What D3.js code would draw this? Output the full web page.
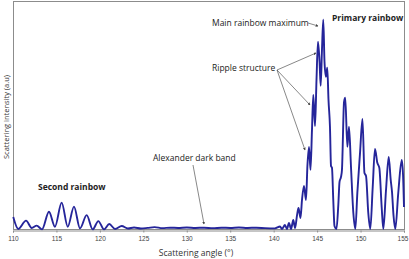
<!DOCTYPE html>
<html lang="en">
<head>
    <meta charset="UTF-8">
    <title>Rainbow scattering</title>
    <script src="https://d3js.org/d3.v7.min.js"></script>
    <style>
        body { margin: 0; background: #fff; font-family: "Open Sans", Arial, sans-serif; }
    </style>
</head>
<body>
    <div id="chart"></div>
    <script>
        // scattering angle (deg) and intensity (a.u.)
        const angles = [
            110.03, 110.61, 111.50, 112.15, 112.73, 113.34, 114.14, 114.83, 115.60, 116.30,
            117.02, 117.71, 118.48, 119.17, 119.82, 120.47, 121.08, 121.74, 122.51, 123.23,
            123.93, 124.73, 125.5, 126.3, 127.2, 128.1, 129.0, 130.0, 131.0, 132.0,
            133.0, 134.0, 135.0, 136.0, 137.0, 138.0, 139.0, 140.15, 140.73, 140.96,
            141.30, 141.53, 141.76, 142.00, 142.26, 142.46, 142.69, 142.86, 143.09, 143.26,
            143.49, 143.72, 143.89, 144.07, 144.24, 144.41, 144.56, 144.76, 144.93, 145.10,
            145.28, 145.41, 145.56, 145.71, 145.85, 146.02, 146.17, 146.31, 146.48, 146.60,
            146.71, 146.86, 147.00, 147.23, 147.44, 147.58, 147.75, 147.86, 148.10, 148.24,
            148.48, 148.67, 148.90, 149.17, 149.40, 149.63, 149.94, 150.22, 150.45, 150.63,
            150.89, 151.12, 151.40, 151.66, 151.93, 152.16, 152.43, 152.62, 152.93, 153.24,
            153.47, 153.62, 153.79, 154.00, 154.34, 154.74, 154.89, 155.00
        ];
        const intensity = [
            0.063, 0.005, 0.045, 0.010, 0.021, 0.003, 0.088, 0.016, 0.132, 0.016,
            0.113, 0.008, 0.072, 0.003, 0.043, 0.003, 0.029, 0.005, 0.019, 0.007,
            0.012, 0.007, 0.010, 0.014, 0.009, 0.011, 0.010, 0.012, 0.010, 0.011,
            0.009, 0.011, 0.010, 0.012, 0.010, 0.011, 0.009, 0.008, 0.017, 0.005,
            0.024, 0.005, 0.034, 0.005, 0.048, 0.010, 0.072, 0.106, 0.058, 0.145,
            0.213, 0.145, 0.314, 0.401, 0.290, 0.483, 0.652, 0.502, 0.725, 0.908,
            0.812, 0.696, 0.870, 1.014, 0.812, 0.739, 0.783, 0.628, 0.498, 0.309,
            0.300, 0.145, 0.019, 0.005, 0.121, 0.232, 0.256, 0.290, 0.618, 0.638,
            0.401, 0.498, 0.304, 0.082, 0.005, 0.179, 0.372, 0.536, 0.275, 0.261,
            0.082, 0.005, 0.208, 0.391, 0.324, 0.300, 0.111, 0.005, 0.193, 0.353,
            0.242, 0.184, 0.072, 0.005, 0.179, 0.338, 0.266, 0.111
        ];
        const xTicks = [110, 115, 120, 125, 130, 135, 140, 145, 150, 155];

        const data = angles.map((a, i) => ({ a: a, v: intensity[i] }));

        const width = 409, height = 259;
        const margin = { top: 2, right: 4, bottom: 29, left: 13 };

        const svg = d3.select("#chart").append("svg")
            .attr("width", width)
            .attr("height", height);

        const x = d3.scaleLinear().domain([110, 155]).range([margin.left, width - margin.right - 1]);
        const y = d3.scaleLinear().domain([0, 1.1]).range([height - margin.bottom, margin.top]);

        // plot frame
        svg.append("rect")
            .attr("x", margin.left + 0.5)
            .attr("y", margin.top - 0.5)
            .attr("width", width - margin.left - margin.right - 1)
            .attr("height", height - margin.bottom - margin.top)
            .attr("fill", "none")
            .attr("stroke", "#8c8c8c");

        // x axis
        const xAxis = svg.append("g")
            .attr("transform", `translate(0,${height - margin.bottom + 0.5})`)
            .call(d3.axisBottom(x).tickValues(xTicks).tickSize(2).tickPadding(4));
        xAxis.select(".domain").attr("stroke", "#8c8c8c");
        xAxis.selectAll(".tick line").attr("stroke", "#8c8c8c");
        xAxis.selectAll("text")
            .attr("fill", "#444")
            .style("font-size", "6.5px")
            .style("font-family", "Arial, sans-serif");
        xAxis.selectAll(".tick text").filter(d => d === 155).attr("dx", "-1.5");

        // curve
        const line = d3.line()
            .x(d => x(d.a))
            .y(d => y(d.v))
            .curve(d3.curveMonotoneX);

        svg.append("path")
            .datum(data)
            .attr("fill", "none")
            .attr("stroke", "#25259a")
            .attr("stroke-width", 1.9)
            .attr("stroke-linejoin", "round")
            .attr("d", line);

        // axis titles
        svg.append("text")
            .attr("x", 196)
            .attr("y", 256)
            .attr("text-anchor", "middle")
            .attr("fill", "#333")
            .style("font-size", "8.5px")
            .text("Scattering angle (°)");

        svg.append("text")
            .attr("transform", "rotate(-90)")
            .attr("x", -117)
            .attr("y", 9)
            .attr("text-anchor", "middle")
            .attr("fill", "#333")
            .style("font-size", "7.5px")
            .text("Scattering intensity (a.u)");

        // annotations
        svg.append("defs").append("marker")
            .attr("id", "arr")
            .attr("viewBox", "0 0 6 6")
            .attr("refX", 5).attr("refY", 3)
            .attr("markerWidth", 4).attr("markerHeight", 4)
            .attr("orient", "auto")
            .append("path")
            .attr("d", "M0,0L6,3L0,6Z")
            .attr("fill", "#444");

        const notes = [
            { t: "Main rainbow maximum", x: 212, y: 26, bold: false },
            { t: "Primary rainbow", x: 332, y: 21, bold: true },
            { t: "Ripple structure", x: 212, y: 71, bold: false },
            { t: "Alexander dark band", x: 153, y: 161, bold: false },
            { t: "Second rainbow", x: 38, y: 190, bold: true }
        ];
        svg.selectAll("text.note")
            .data(notes)
            .enter().append("text")
            .attr("class", "note")
            .attr("x", d => d.x)
            .attr("y", d => d.y)
            .attr("fill", "#222")
            .style("font-size", "8.5px")
            .style("font-weight", d => d.bold ? "bold" : "normal")
            .text(d => d.t);

        const arrows = [
            [308, 23, 318, 26],
            [277, 70, 316, 53],
            [277, 70, 310, 105],
            [277, 70, 305, 150],
            [193, 165, 204, 224]
        ];
        svg.selectAll("line.arrow")
            .data(arrows)
            .enter().append("line")
            .attr("class", "arrow")
            .attr("x1", d => d[0]).attr("y1", d => d[1])
            .attr("x2", d => d[2]).attr("y2", d => d[3])
            .attr("stroke", "#555")
            .attr("stroke-width", 0.7)
            .attr("marker-end", "url(#arr)");
    </script>
</body>
</html>
